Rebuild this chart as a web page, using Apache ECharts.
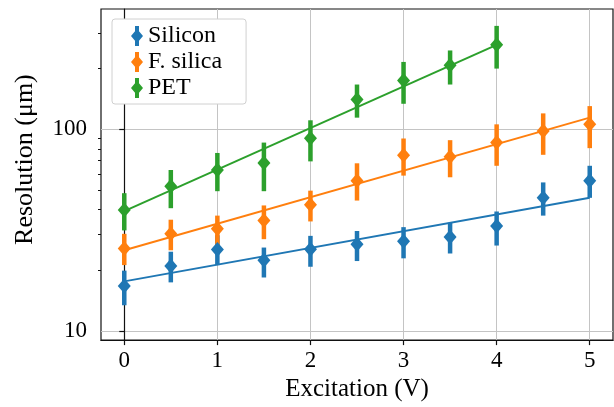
<!DOCTYPE html>
<html>
<head>
<meta charset="utf-8">
<script src="https://cdn.jsdelivr.net/npm/echarts@6/dist/echarts.min.js"></script>
<style>html,body{margin:0;padding:0;background:#fff;}#c{width:614px;height:407px;}</style>
</head>
<body>
<div id="c"></div>
<script>
const xValues = [0, 0.5, 1, 1.5, 2, 2.5, 3, 3.5, 4, 4.5, 5];
const siliconVal  = [16.7, 21.0, 25.3, 22.4, 25.4, 26.9, 27.8, 29.2, 33.1, 45.8, 55.6];
const siliconLow  = [13.4, 17.4, 21.2, 18.4, 20.8, 22.2, 22.9, 24.2, 26.5, 37.3, 45.7];
const siliconHigh = [19.9, 24.7, 29.8, 25.9, 29.6, 31.3, 32.7, 34.4, 39.1, 54.5, 65.9];
const silicaVal  = [25.6, 30.3, 32.1, 35.3, 42.2, 55.6, 74.4, 73.0, 85.9, 98.1, 105.8];
const silicaLow  = [21.2, 25.1, 26.5, 28.5, 34.9, 44.3, 58.9, 57.8, 65.9, 74.7, 80.6];
const silicaHigh = [30.3, 35.6, 37.3, 41.9, 49.6, 67.8, 90.0, 88.3, 105.8, 119.9, 130.3];
const petX = [0, 0.5, 1, 1.5, 2, 2.5, 3, 3.5, 4];
const petVal  = [39.8, 52.1, 62.8, 68.0, 90.3, 140.6, 174.6, 207.5, 262.6];
const petLow  = [31.5, 40.6, 49.3, 49.3, 69.3, 114.2, 133.8, 166.7, 200.0];
const petHigh = [48.2, 62.8, 76.3, 85.9, 110.8, 166.7, 215.8, 246.0, 325.7];
const fitX = [0, 5];
const siliconFit = [17.6, 45.8];
const silicaFit = [25.1, 114.2];
const petFitX = [0, 4];
const petFit = [39.3, 262];
const xTicks = [0, 1, 2, 3, 4, 5];
const yMajorTicks = [10, 100];
const yMinorTicks = [20, 30, 40, 50, 60, 70, 80, 90, 200, 300];
const names = ['Silicon', 'F. silica', 'PET'];
const colors = ['#1f77b4', '#ff7f0e', '#2ca02c'];

const FONT = 'Liberation Serif';
const zip = (a, b) => a.map((v, i) => [v, b[i]]);
const zip3 = (a, b, c) => a.map((v, i) => [v, b[i], c[i]]);

function errRender(params, api) {
  const x = api.value(0);
  const lo = api.coord([x, api.value(1)]);
  const hi = api.coord([x, api.value(2)]);
  return {
    type: 'line',
    shape: { x1: lo[0], y1: lo[1], x2: hi[0], y2: hi[1] },
    style: { stroke: api.visual('color'), lineWidth: 4.5 }
  };
}

const groups = [
  { x: xValues, v: siliconVal, lo: siliconLow, hi: siliconHigh, fx: fitX, fy: siliconFit },
  { x: xValues, v: silicaVal, lo: silicaLow, hi: silicaHigh, fx: fitX, fy: silicaFit },
  { x: petX, v: petVal, lo: petLow, hi: petHigh, fx: petFitX, fy: petFit }
];

const series = [];
groups.forEach((g, i) => {
  series.push({
    name: names[i] + ' err', type: 'custom', renderItem: errRender,
    data: zip3(g.x, g.lo, g.hi), encode: { x: 0, y: [1, 2] },
    itemStyle: { color: colors[i] }, z: 2, silent: true
  });
  series.push({
    name: names[i], type: 'scatter', data: zip(g.x, g.v),
    symbol: 'diamond', symbolSize: [13, 15],
    itemStyle: { color: colors[i], opacity: 1 }, z: 3
  });
  series.push({
    name: names[i] + ' fit', type: 'line', data: zip(g.fx, g.fy),
    showSymbol: false, lineStyle: { color: colors[i], width: 2 },
    itemStyle: { color: colors[i] }, z: 4, silent: true
  });
});

const icon = 'path://M4,0 L8,0 L8,5.33 L12,10 L8,14.67 L8,20 L4,20 L4,14.67 L0,10 L4,5.33 Z';

const chart = echarts.init(document.getElementById('c'), null, { renderer: 'canvas' });
chart.setOption({
  animation: false,
  backgroundColor: '#fff',
  grid: { left: 101, right: 1, top: 9, bottom: 65, show: true, borderColor: '#111', borderWidth: 1.2, backgroundColor: 'transparent' },
  legend: {
    orient: 'vertical', left: 112, top: 19,
    padding: [5, 24, 4, 19], itemGap: 2, itemWidth: 12, itemHeight: 20,
    backgroundColor: '#fff', borderColor: '#d0d0d0', borderWidth: 1, borderRadius: 3,
    textStyle: { fontFamily: FONT, fontSize: 24, color: '#000' },
    data: names.map((n, i) => ({ name: n, icon: icon, itemStyle: { color: colors[i] } })),
    selectedMode: false
  },
  xAxis: {
    type: 'value', min: -0.25, max: 5.25,
    name: 'Excitation (V)', nameLocation: 'middle', nameGap: 31,
    nameTextStyle: { fontFamily: FONT, fontSize: 25, color: '#000' },
    axisLine: { show: true, onZero: false, lineStyle: { color: '#111', width: 1.2 } },
    axisTick: { show: true, length: 5, customValues: xTicks, lineStyle: { color: '#111', width: 1.2 } },
    axisLabel: { customValues: xTicks, fontFamily: FONT, fontSize: 23, color: '#000', margin: 9 },
    splitLine: { show: true, lineStyle: { color: '#c4c4c4', width: 1 } }
  },
  yAxis: [{
    type: 'log', logBase: 10, min: 9.0, max: 395,
    name: 'Resolution (μm)', nameLocation: 'middle', nameGap: 63,
    nameTextStyle: { fontFamily: FONT, fontSize: 26, color: '#000', padding: [0, 0, 0, 30] },
    axisLine: { show: true, lineStyle: { color: '#111', width: 1.2 } },
    axisTick: { show: true, length: 5, customValues: yMajorTicks, lineStyle: { color: '#111', width: 1.2 } },
    axisLabel: { customValues: yMajorTicks, fontFamily: FONT, fontSize: 23, color: '#000', margin: 14 },
    splitLine: { show: true, lineStyle: { color: '#c4c4c4', width: 1 } }
  }, {
    type: 'log', logBase: 10, min: 9.0, max: 395, position: 'left',
    axisLine: { show: false },
    axisTick: { show: true, length: 3, customValues: yMinorTicks, lineStyle: { color: '#111', width: 1 } },
    axisLabel: { show: false },
    splitLine: { show: false }
  }],
  series: series
});
</script>
</body>
</html>
